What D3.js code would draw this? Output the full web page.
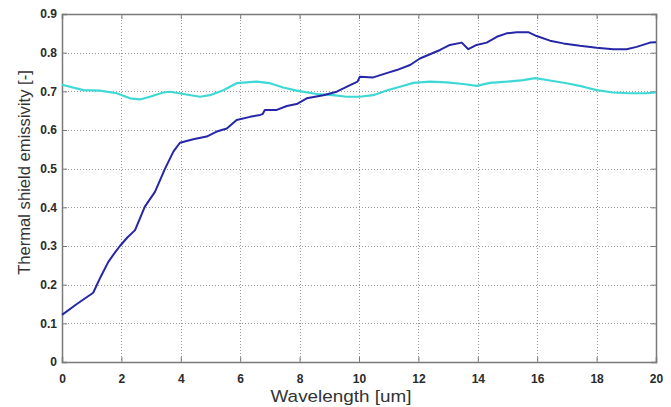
<!DOCTYPE html>
<html>
<head>
<meta charset="utf-8">
<script src="https://cdn.jsdelivr.net/npm/d3@7"></script>
<style>
  html, body { margin: 0; padding: 0; background: #fff; }
  svg { display: block; }
  text { font-family: "Liberation Sans", Arial, sans-serif; }
</style>
</head>
<body>
<svg id="chart" width="671" height="407"></svg>
<script>
// Wavelength samples [um] and emissivity values for the two shield curves
const blueX = [0, 0.5, 1.05, 1.3, 1.56, 1.8, 1.95, 2.2, 2.46, 2.79, 3.13, 3.47, 3.75, 3.97, 4.42, 4.87, 5.21, 5.55, 5.88, 6.33, 6.67, 6.75, 6.83, 7.23, 7.57, 7.9, 8.24, 8.8, 9.25, 9.7, 9.95, 10.03, 10.48, 10.93, 11.27, 11.72, 12.05, 12.39, 12.73, 13.06, 13.46, 13.68, 13.96, 14.3, 14.64, 14.97, 15.31, 15.7, 15.98, 16.43, 16.88, 17.44, 18.0, 18.56, 19.01, 19.35, 19.8, 20];
const blueY = [0.122, 0.15, 0.179, 0.22, 0.259, 0.285, 0.3, 0.322, 0.341, 0.402, 0.44, 0.5, 0.544, 0.567, 0.576, 0.583, 0.596, 0.604, 0.626, 0.634, 0.639, 0.641, 0.652, 0.652, 0.662, 0.667, 0.682, 0.69, 0.699, 0.716, 0.725, 0.738, 0.736, 0.747, 0.755, 0.768, 0.785, 0.796, 0.807, 0.82, 0.826, 0.809, 0.82, 0.826, 0.841, 0.85, 0.853, 0.853, 0.843, 0.831, 0.824, 0.818, 0.813, 0.809, 0.809, 0.815, 0.826, 0.827];

const cyanX = [0, 0.72, 1.28, 1.84, 2.29, 2.63, 2.96, 3.41, 3.64, 4.08, 4.65, 4.98, 5.43, 5.88, 6.55, 7.0, 7.45, 7.9, 8.57, 9.13, 9.58, 10.03, 10.48, 10.93, 11.38, 11.83, 12.39, 12.95, 13.51, 13.96, 14.41, 14.97, 15.53, 15.93, 16.43, 16.99, 17.55, 18.0, 18.56, 19.1, 19.68, 20];
const cyanY = [0.717, 0.703, 0.702, 0.695, 0.682, 0.679, 0.686, 0.697, 0.699, 0.693, 0.686, 0.69, 0.703, 0.721, 0.725, 0.721, 0.71, 0.702, 0.693, 0.69, 0.686, 0.686, 0.69, 0.702, 0.712, 0.722, 0.725, 0.723, 0.719, 0.714, 0.722, 0.725, 0.729, 0.734, 0.728, 0.721, 0.712, 0.703, 0.697, 0.695, 0.695, 0.697];

const xTicks = [0, 2, 4, 6, 8, 10, 12, 14, 16, 18, 20];
const yTicks = [0, 0.1, 0.2, 0.3, 0.4, 0.5, 0.6, 0.7, 0.8, 0.9];
const yTickLabels = ["0", "0.1", "0.2", "0.3", "0.4", "0.5", "0.6", "0.7", "0.8", "0.9"];

const margin = { left: 62, right: 15, top: 14, bottom: 45 };
const W = 671, H = 407;
const svg = d3.select("#chart");

const x = d3.scaleLinear().domain([0, 20]).range([margin.left, W - margin.right]);
const y = d3.scaleLinear().domain([0, 0.9]).range([H - margin.bottom, margin.top]);

const x0 = x.range()[0], x1 = x.range()[1], y0 = y.range()[0], y1 = y.range()[1];

// dotted grid
const grid = svg.append("g").attr("stroke", "#9a9a9a").attr("stroke-width", 1)
  .attr("stroke-dasharray", "1,2");
grid.selectAll("line.gx").data(xTicks.slice(1, -1)).join("line")
  .attr("x1", d => Math.round(x(d)) + 0.5).attr("x2", d => Math.round(x(d)) + 0.5)
  .attr("y1", y1).attr("y2", y0);
grid.selectAll("line.gy").data(yTicks.slice(1, -1)).join("line")
  .attr("y1", d => Math.round(y(d)) + 0.5).attr("y2", d => Math.round(y(d)) + 0.5)
  .attr("x1", x0).attr("x2", x1);

// axes with inward ticks on all four sides
const tickLen = 5;
const axisColor = "#7a7a7a";
const axBottom = svg.append("g").attr("transform", `translate(0,${y0})`)
  .call(d3.axisBottom(x).tickValues(xTicks).tickSize(-tickLen).tickPadding(12).tickFormat(d3.format("d")));
const axTop = svg.append("g").attr("transform", `translate(0,${y1})`)
  .call(d3.axisTop(x).tickValues(xTicks).tickSize(-tickLen).tickFormat(""));
const axLeft = svg.append("g").attr("transform", `translate(${x0},0)`)
  .call(d3.axisLeft(y).tickValues(yTicks).tickSize(-tickLen).tickPadding(5)
    .tickFormat((d, i) => yTickLabels[i]));
const axRight = svg.append("g").attr("transform", `translate(${x1},0)`)
  .call(d3.axisRight(y).tickValues(yTicks).tickSize(-tickLen).tickFormat(""));

[axBottom, axTop, axLeft, axRight].forEach(g => {
  g.select(".domain").attr("stroke", axisColor).attr("stroke-width", 1.5);
  g.selectAll(".tick line").attr("stroke", axisColor).attr("stroke-width", 1);
  g.selectAll(".tick text").attr("fill", "#2a2a2a").attr("font-size", 12)
    .attr("font-weight", "bold").attr("font-family", "'Liberation Sans', Arial, sans-serif");
});

// curves
const line = d3.line().x(d => x(d[0])).y(d => y(d[1])).curve(d3.curveLinear);
svg.append("path").datum(cyanX.map((v, i) => [v, cyanY[i]]))
  .attr("fill", "none").attr("stroke", "#3ed8d6").attr("stroke-width", 2.2)
  .attr("stroke-linejoin", "round").attr("d", line);
svg.append("path").datum(blueX.map((v, i) => [v, blueY[i]]))
  .attr("fill", "none").attr("stroke", "#2626a8").attr("stroke-width", 2)
  .attr("stroke-linejoin", "round").attr("d", line);

// axis titles
svg.append("text").attr("x", 341).attr("y", 402)
  .attr("text-anchor", "middle").attr("font-size", 16.8).attr("fill", "#333")
  .attr("textLength", 141).attr("lengthAdjust", "spacingAndGlyphs")
  .text("Wavelength [um]");
svg.append("text").attr("transform", `translate(30,172.5) rotate(-90)`)
  .attr("text-anchor", "middle").attr("font-size", 16.6).attr("fill", "#333")
  .text("Thermal shield emissivity [-]");
</script>
</body>
</html>
